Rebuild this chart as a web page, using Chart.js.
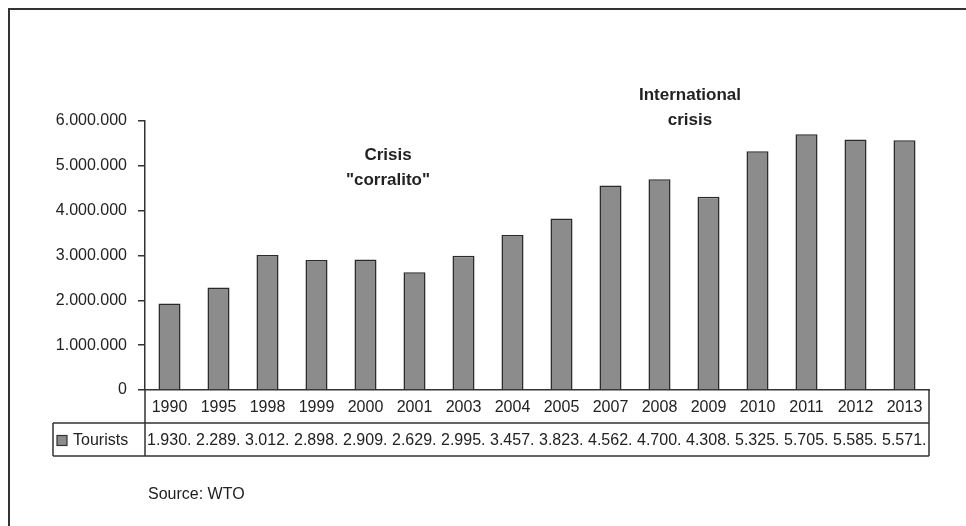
<!DOCTYPE html>
<html>
<head>
<meta charset="utf-8">
<script src="https://cdn.jsdelivr.net/npm/chart.js@4/dist/chart.umd.min.js"></script>
<style>
  html, body { margin: 0; padding: 0; background: #fff; overflow: hidden; }
  #wrap { position: relative; width: 966px; height: 526px; }
  #frame { position: absolute; left: 8px; top: 8px; width: 1000px; height: 600px;
           border-left: 2px solid #333; border-top: 2px solid #333; box-sizing: border-box; }
  canvas { position: absolute; left: 0; top: 0; }
</style>
</head>
<body>
<div id="wrap">
  <div id="frame"></div>
  <canvas id="c" width="966" height="526"></canvas>
</div>
<script>
// International tourist arrivals by year
const years = ['1990','1995','1998','1999','2000','2001','2003','2004','2005','2007','2008','2009','2010','2011','2012','2013'];
const tourists = [1930000, 2289000, 3012000, 2898000, 2909000, 2629000, 2995000, 3457000, 3823000, 4562000, 4700000, 4308000, 5325000, 5705000, 5585000, 5571000];
const seriesName = 'Tourists';
const yTicks = [0, 1000000, 2000000, 3000000, 4000000, 5000000, 6000000];
const sourceNote = 'Source: WTO';
const notes = [
  { lines: ['Crisis', '"corralito"'], x: 388, y: 155 },
  { lines: ['International', 'crisis'], x: 690, y: 95 }
];

const FONT = '"Liberation Sans", Arial, sans-serif';
const INK = '#222';
const LINE = '#333';
const BAR = '#8c8c8c';

const fmt = v => String(Math.round(v)).replace(/\B(?=(\d{3})+(?!\d))/g, '.');

// Data table under the axis, legend key, notes and source line
const tablePlugin = {
  id: 'dataTable',
  afterDraw(chart) {
    const ctx = chart.ctx;
    const xs = chart.scales.x;
    const area = chart.chartArea;
    const colW = xs.getPixelForValue(1) - xs.getPixelForValue(0);
    const axisY = area.bottom;
    const rowTop = axisY + 33;
    const rowBot = rowTop + 33;
    const leftX = 53;
    const rightX = area.right;

    ctx.save();
    ctx.strokeStyle = LINE;
    ctx.lineWidth = 1.5;
    ctx.beginPath();
    ctx.moveTo(leftX, rowTop); ctx.lineTo(rightX, rowTop);
    ctx.moveTo(leftX, rowBot); ctx.lineTo(rightX, rowBot);
    ctx.moveTo(leftX, rowTop); ctx.lineTo(leftX, rowBot);
    ctx.moveTo(area.left, axisY); ctx.lineTo(area.left, rowBot);
    ctx.moveTo(rightX, axisY); ctx.lineTo(rightX, rowBot);
    ctx.stroke();

    // legend key
    const midY = (rowTop + rowBot) / 2;
    ctx.fillStyle = BAR;
    ctx.fillRect(57, midY - 4, 10, 10);
    ctx.lineWidth = 1.2;
    ctx.strokeRect(57, midY - 4, 10, 10);

    ctx.fillStyle = INK;
    ctx.font = '16px ' + FONT;
    ctx.textBaseline = 'middle';
    ctx.textAlign = 'left';
    ctx.fillText(seriesName, 73, midY + 1);

    // values, clipped to their cells
    tourists.forEach((v, i) => {
      const cx = xs.getPixelForValue(i) - colW / 2;
      ctx.save();
      ctx.beginPath();
      ctx.rect(cx + 1, rowTop, colW - 3, rowBot - rowTop);
      ctx.clip();
      ctx.fillText(fmt(v), cx + 2, midY + 1);
      ctx.restore();
    });

    // notes
    ctx.font = 'bold 17px ' + FONT;
    ctx.textAlign = 'center';
    notes.forEach(n => {
      n.lines.forEach((t, k) => ctx.fillText(t, n.x, n.y + k * 25));
    });

    // source
    ctx.font = '16px ' + FONT;
    ctx.textAlign = 'left';
    ctx.fillText(sourceNote, 148, 495);
    ctx.restore();
  }
};

new Chart(document.getElementById('c'), {
  type: 'bar',
  data: {
    labels: years,
    datasets: [{
      label: seriesName,
      data: tourists,
      backgroundColor: BAR,
      borderColor: '#2a2a2a',
      borderWidth: 1.5,
      barPercentage: 0.45,
      categoryPercentage: 1
    }]
  },
  options: {
    responsive: false,
    animation: false,
    layout: { padding: { top: 121, right: 37, bottom: 0, left: 0 } },
    plugins: { legend: { display: false }, tooltip: { enabled: false } },
    scales: {
      y: {
        min: 0, max: 6000000,
        afterFit(s) { s.width = 145; },
        afterBuildTicks(s) { s.ticks = yTicks.map(v => ({ value: v })); },
        ticks: {
          padding: 11,
          color: INK,
          font: { family: FONT, size: 16 },
          callback: v => fmt(v)
        },
        grid: { drawOnChartArea: false, drawTicks: true, tickLength: 7, color: LINE, lineWidth: 1.5 },
        border: { display: true, color: LINE, width: 1.5 }
      },
      x: {
        afterFit(s) { s.height = 136; },
        ticks: {
          padding: 8,
          color: INK,
          maxRotation: 0,
          autoSkip: false,
          font: { family: FONT, size: 16 }
        },
        grid: { display: false, drawTicks: false },
        border: { display: true, color: LINE, width: 1.5 }
      }
    }
  },
  plugins: [tablePlugin]
});
</script>
</body>
</html>
